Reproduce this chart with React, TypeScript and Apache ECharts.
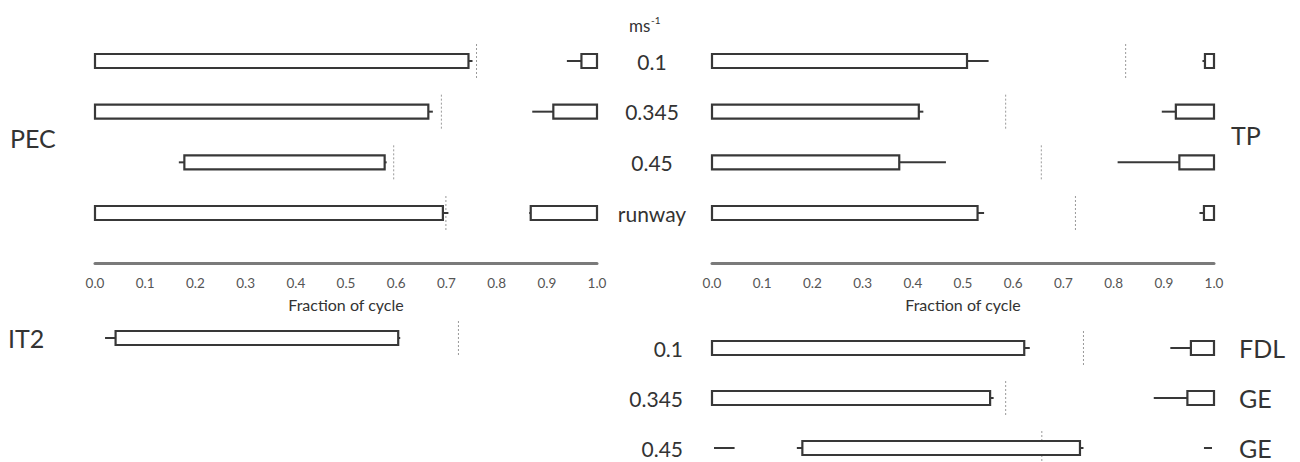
import React, { useEffect, useRef } from "react";
import * as echarts from "echarts";

// ---- categories / labels ----
const speedLabels = ["0.1", "0.345", "0.45", "runway"];
const bottomSpeedLabels = ["0.1", "0.345", "0.45"];
const bottomRightGroups = ["FDL", "GE", "GE"];
const bottomLeftGroups = ["IT2", "", ""];
const tickValues = [0, 0.1, 0.2, 0.3, 0.4, 0.5, 0.6, 0.7, 0.8, 0.9, 1.0];

// ---- PEC (top left) ----
const pecBarStart = [0, 0, 0.178, 0];
const pecBarEnd = [0.744, 0.664, 0.577, 0.693];
const pecLowWhisker = [null, null, 0.167, null];
const pecHighWhisker = [0.752, 0.673, 0.581, 0.704];
const pecMarker = [0.76, 0.69, 0.595, 0.699];
const pecBoxStart = [0.969, 0.913, null, 0.868];
const pecBoxEnd = [1, 1, null, 1];
const pecBoxWhisker = [0.94, 0.871, null, 0.865];

// ---- TP (top right) ----
const tpBarStart = [0, 0, 0, 0];
const tpBarEnd = [0.508, 0.412, 0.373, 0.529];
const tpLowWhisker = [null, null, null, null];
const tpHighWhisker = [0.551, 0.421, 0.466, 0.542];
const tpMarker = [0.824, 0.585, 0.656, 0.724];
const tpBoxStart = [0.982, 0.924, 0.931, 0.98];
const tpBoxEnd = [1, 1, 1, 1];
const tpBoxWhisker = [0.977, 0.896, 0.808, 0.971];

// ---- IT2 (bottom left) ----
const it2BarStart = [0.041, null, null];
const it2BarEnd = [0.604, null, null];
const it2LowWhisker = [0.02, null, null];
const it2HighWhisker = [0.608, null, null];
const it2Marker = [0.724, null, null];

// ---- FDL / GE (bottom right) ----
const brBarStart = [0, 0, 0.18];
const brBarEnd = [0.622, 0.554, 0.733];
const brLowWhisker = [null, null, 0.169];
const brHighWhisker = [0.633, 0.561, 0.74];
const brMarker = [0.74, 0.585, 0.657];
const brBoxStart = [0.954, 0.947, null];
const brBoxEnd = [1, 1, null];
const brBoxWhisker = [0.913, 0.88, null];
const brLeadSegStart = [null, null, 0.004];
const brLeadSegEnd = [null, null, 0.045];
const brTailSegStart = [null, null, 0.98];
const brTailSegEnd = [null, null, 0.996];

type N = number | null;
interface Panel {
  barStart: N[];
  barEnd: N[];
  low: N[];
  high: N[];
  marker: N[];
  boxStart?: N[];
  boxEnd?: N[];
  boxWhisker?: N[];
  segs?: [N[], N[]][];
}

const FONT = "Lato, 'Open Sans', sans-serif";
const STROKE = "#383838";

function makeRender(p: Panel) {
  return (params: any, api: any) => {
    const i = params.dataIndex;
    const yc = api.coord([0, i])[1];
    const X = (v: number) => api.coord([v, i])[0];
    const h = 14;
    const children: any[] = [];
    const m = p.marker[i];
    if (m != null) {
      children.push({
        type: "line",
        shape: { x1: X(m), y1: yc - 17, x2: X(m), y2: yc + 18 },
        style: { stroke: "#9a9a9a", lineWidth: 1, lineDash: [2, 2] },
      });
    }
    const seg = (a: N, b: N) => {
      if (a == null || b == null) return;
      children.push({
        type: "line",
        shape: { x1: X(a), y1: yc, x2: X(b), y2: yc },
        style: { stroke: STROKE, lineWidth: 2 },
      });
    };
    const rect = (a: N, b: N) => {
      if (a == null || b == null) return;
      children.push({
        type: "rect",
        shape: { x: X(a), y: yc - h / 2, width: X(b) - X(a), height: h },
        style: { fill: "#fff", stroke: STROKE, lineWidth: 2.2 },
      });
    };
    seg(p.low[i], p.barStart[i]);
    seg(p.barEnd[i], p.high[i]);
    if (p.boxStart && p.boxWhisker) seg(p.boxWhisker[i], p.boxStart[i]);
    if (p.segs) p.segs.forEach(([s, e]) => seg(s[i], e[i]));
    rect(p.barStart[i], p.barEnd[i]);
    if (p.boxStart && p.boxEnd) rect(p.boxStart[i], p.boxEnd[i]);
    return { type: "group", children };
  };
}

function customSeries(p: Panel, idx: number, count: number) {
  const data: any[] = [];
  for (let i = 0; i < count; i++) data.push([0, i]);
  return {
    type: "custom",
    xAxisIndex: idx,
    yAxisIndex: idx,
    clip: false,
    silent: true,
    encode: { x: 0, y: 1 },
    renderItem: makeRender(p),
    data,
  };
}

const topRowSpacing = 50.67;
const topFirstRow = 61;
const bottomRowSpacing = 50;

export default function App() {
  const ref = useRef<HTMLDivElement>(null);
  useEffect(() => {
    if (!ref.current) return;
    const chart = echarts.init(ref.current, undefined, { renderer: "svg" });
    const topTop = topFirstRow - topRowSpacing / 2;
    const topHeight = topRowSpacing * speedLabels.length;
    const axisOffset = 263 - (topTop + topHeight);

    const topXAxis = (gridIndex: number) => ({
      type: "value",
      gridIndex,
      min: 0,
      max: 1,
      interval: 0.1,
      position: "bottom",
      offset: axisOffset,
      splitLine: { show: false },
      axisTick: { show: false },
      axisLine: { show: true, lineStyle: { color: "#7a7a7a", width: 3 } },
      axisLabel: {
        show: true,
        margin: 13,
        color: "#555",
        fontSize: 13.5,
        fontFamily: FONT,
        customValues: tickValues,
        formatter: (v: number) => v.toFixed(1),
      },
      name: "Fraction of cycle",
      nameLocation: "middle",
      nameGap: 33,
      nameTextStyle: { color: "#333", fontSize: 16, fontFamily: FONT },
    });
    const hiddenX = (gridIndex: number) => ({
      type: "value",
      gridIndex,
      min: 0,
      max: 1,
      show: false,
    });

    chart.setOption({
      animation: false,
      backgroundColor: "#fff",
      grid: [
        { left: 95, width: 502, top: topTop, height: topHeight },
        { left: 712, width: 502, top: topTop, height: topHeight },
        { left: 95, width: 502, top: 338, height: bottomRowSpacing * 2 },
        { left: 712, width: 502, top: 348, height: bottomRowSpacing * 2 },
      ],
      xAxis: [topXAxis(0), topXAxis(1), hiddenX(2), hiddenX(3)],
      yAxis: [
        { type: "category", gridIndex: 0, inverse: true, data: speedLabels, show: false },
        {
          type: "category",
          gridIndex: 1,
          inverse: true,
          data: speedLabels,
          axisLine: { show: false },
          axisTick: { show: false },
          axisLabel: { margin: 60, align: "center", color: "#333", fontSize: 21, fontFamily: FONT },
        },
        {
          type: "category",
          gridIndex: 2,
          inverse: true,
          boundaryGap: false,
          data: bottomLeftGroups,
          axisLine: { show: false },
          axisTick: { show: false },
          axisLabel: { margin: 87, align: "left", color: "#333", fontSize: 25, fontFamily: FONT },
        },
        {
          type: "category",
          gridIndex: 3,
          inverse: true,
          boundaryGap: false,
          data: bottomSpeedLabels,
          axisLine: { show: false },
          axisTick: { show: false },
          axisLabel: { margin: 29, align: "right", color: "#333", fontSize: 21, fontFamily: FONT },
        },
        {
          type: "category",
          gridIndex: 3,
          inverse: true,
          boundaryGap: false,
          position: "right",
          data: bottomRightGroups,
          axisLine: { show: false },
          axisTick: { show: false },
          axisLabel: {
            margin: 25,
            align: "left",
            color: "#333",
            fontSize: 25,
            fontFamily: FONT,
            formatter: (_v: string, i: number) => bottomRightGroups[i],
          },
        },
      ],
      graphic: [
        { type: "text", left: 10, top: 125, style: { text: "PEC", fontSize: 25, fontFamily: FONT, fill: "#333" } },
        { type: "text", left: 1231, top: 122, style: { text: "TP", fontSize: 25, fontFamily: FONT, fill: "#333" } },
        { type: "text", left: 629, top: 17, style: { text: "ms", fontSize: 17, fontFamily: FONT, fill: "#333" } },
        { type: "text", left: 651, top: 15, style: { text: "-1", fontSize: 10, fontFamily: FONT, fill: "#333" } },
      ],
      series: [
        customSeries(
          { barStart: pecBarStart, barEnd: pecBarEnd, low: pecLowWhisker, high: pecHighWhisker, marker: pecMarker, boxStart: pecBoxStart, boxEnd: pecBoxEnd, boxWhisker: pecBoxWhisker },
          0,
          speedLabels.length
        ),
        customSeries(
          { barStart: tpBarStart, barEnd: tpBarEnd, low: tpLowWhisker, high: tpHighWhisker, marker: tpMarker, boxStart: tpBoxStart, boxEnd: tpBoxEnd, boxWhisker: tpBoxWhisker },
          1,
          speedLabels.length
        ),
        customSeries(
          { barStart: it2BarStart, barEnd: it2BarEnd, low: it2LowWhisker, high: it2HighWhisker, marker: it2Marker },
          2,
          bottomLeftGroups.length
        ),
        customSeries(
          {
            barStart: brBarStart,
            barEnd: brBarEnd,
            low: brLowWhisker,
            high: brHighWhisker,
            marker: brMarker,
            boxStart: brBoxStart,
            boxEnd: brBoxEnd,
            boxWhisker: brBoxWhisker,
            segs: [
              [brLeadSegStart, brLeadSegEnd],
              [brTailSegStart, brTailSegEnd],
            ],
          },
          3,
          bottomSpeedLabels.length
        ),
      ],
    });
    return () => chart.dispose();
  }, []);
  return (
    <div
      ref={ref}
      style={{ position: "absolute", left: 0, top: 0, width: 1300, height: 462 }}
    />
  );
}
